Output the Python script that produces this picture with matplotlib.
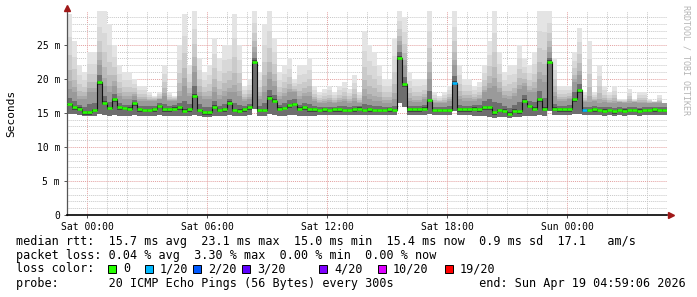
import numpy as np
import matplotlib
matplotlib.use("Agg")
import matplotlib.pyplot as plt
import matplotlib.dates as mdates
from matplotlib.patches import Rectangle
from matplotlib.ticker import MultipleLocator, FuncFormatter

# 15 minute bins, 30 hours ending Sun Apr 19 04:59:06 2026
start = np.datetime64("2026-04-17T22:59:06")
n_bins = 120

# median rtt (ms)
median = [16.3, 15.8, 15.6, 15.1, 15.1, 15.4, 19.5, 16.5, 15.7, 17.0,
          15.8, 15.7, 15.6, 16.4, 15.5, 15.4, 15.4, 15.5, 16.0, 15.5,
          15.5, 15.6, 15.8, 15.3, 15.5, 17.5, 15.4, 15.1, 15.1, 15.9,
          15.4, 15.5, 16.5, 15.4, 15.3, 15.5, 15.8, 22.5, 15.4, 15.4,
          17.2, 16.8, 15.6, 15.7, 16.1, 16.3, 15.6, 15.8, 15.5, 15.5,
          15.4, 15.5, 15.4, 15.5, 15.5, 15.4, 15.4, 15.5, 15.6, 15.4,
          15.5, 15.4, 15.4, 15.4, 15.5, 15.4, 23.1, 19.2, 15.5, 15.5,
          15.5, 15.6, 16.9, 15.4, 15.4, 15.4, 15.4, 19.4, 15.5, 15.5,
          15.5, 15.6, 15.5, 15.8, 15.8, 15.1, 15.4, 15.3, 14.9, 15.3,
          15.2, 16.8, 16.0, 15.6, 17.0, 15.6, 22.5, 15.6, 15.5, 15.5,
          15.5, 17.0, 18.3, 15.4, 15.4, 15.5, 15.4, 15.3, 15.4, 15.2,
          15.4, 15.3, 15.4, 15.4, 15.3, 15.4, 15.4, 15.5, 15.4, 15.4]

# highest ping of each bin (ms)
smoke_hi = [29.5, 25.5, 22.0, 21.0, 24.0, 24.0, 30.0, 30.0, 28.0, 25.0,
            22.0, 21.0, 21.0, 20.0, 19.0, 19.0, 18.0, 17.5, 18.0, 22.0,
            18.0, 17.5, 25.0, 29.5, 22.0, 30.0, 23.0, 21.0, 22.0, 26.0,
            23.0, 25.0, 25.0, 29.5, 25.0, 19.0, 20.0, 30.0, 21.0, 28.0,
            30.0, 26.0, 21.0, 22.0, 23.0, 20.0, 22.0, 22.0, 23.0, 19.0,
            18.0, 18.5, 19.0, 18.0, 19.0, 19.5, 18.5, 20.5, 18.0, 27.0,
            25.0, 24.0, 22.0, 20.0, 20.0, 26.0, 30.0, 29.0, 21.0, 20.0,
            20.0, 20.0, 30.0, 18.0, 17.5, 18.0, 19.0, 30.0, 22.0, 20.0,
            20.0, 19.0, 19.5, 22.0, 25.6, 30.0, 24.0, 21.0, 22.0, 22.0,
            25.0, 23.0, 22.0, 24.0, 30.0, 30.0, 30.0, 23.0, 19.0, 19.0,
            19.0, 24.0, 27.5, 18.0, 25.6, 18.0, 22.0, 19.0, 18.0, 19.0,
            17.0, 17.0, 18.5, 17.0, 18.0, 18.0, 17.0, 16.7, 17.6, 16.5]

# upper edge of the dense part of the smoke (ms)
smoke_mid = [18.5, 18.0, 17.0, 17.0, 18.0, 18.0, 22.0, 19.0, 18.0, 19.0,
             17.5, 17.0, 17.0, 17.5, 16.8, 16.8, 16.8, 16.8, 17.0, 17.5,
             16.8, 16.8, 17.5, 19.0, 17.5, 21.0, 17.5, 17.0, 17.0, 18.0,
             17.0, 17.5, 18.0, 18.0, 17.5, 16.8, 17.0, 24.0, 17.0, 18.0,
             20.0, 19.0, 17.0, 17.5, 18.0, 18.0, 17.0, 17.5, 17.5, 16.8,
             16.5, 16.5, 16.6, 16.5, 16.6, 16.8, 16.5, 16.8, 16.5, 17.5,
             17.0, 16.8, 16.8, 16.5, 16.5, 17.0, 25.0, 22.0, 16.8, 16.6,
             16.6, 17.0, 20.0, 16.5, 16.5, 16.5, 16.8, 22.0, 17.0, 16.8,
             16.8, 16.8, 17.0, 18.0, 18.7, 19.0, 18.0, 17.2, 17.0, 17.5,
             18.5, 19.0, 18.0, 18.0, 20.0, 19.5, 24.0, 17.5, 16.8, 16.8,
             17.0, 19.5, 20.5, 16.6, 16.6, 16.8, 16.5, 16.6, 16.5, 16.5,
             16.6, 16.5, 16.5, 16.6, 16.5, 16.5, 16.4, 16.5, 16.4, 16.4]

# lowest ping of each bin (ms)
smoke_lo = [14.8, 14.8, 14.7, 14.5, 14.5, 14.6, 14.8, 14.7, 14.6, 14.7,
            14.6, 14.6, 14.6, 14.7, 14.6, 14.6, 14.6, 14.6, 14.7, 14.6,
            14.6, 14.6, 14.6, 14.5, 14.6, 14.7, 14.6, 14.4, 14.4, 14.6,
            14.6, 14.6, 14.7, 14.6, 14.5, 14.6, 14.7, 15.6, 14.6, 14.6,
            14.8, 14.7, 14.6, 14.6, 14.7, 14.7, 14.6, 14.6, 14.6, 14.6,
            14.7, 14.7, 14.7, 14.7, 14.7, 14.7, 14.7, 14.7, 14.7, 14.7,
            14.7, 14.7, 14.7, 14.7, 14.7, 14.7, 16.5, 15.8, 14.7, 14.7,
            14.7, 14.7, 14.9, 14.7, 14.7, 14.7, 14.7, 15.2, 14.7, 14.7,
            14.7, 14.6, 14.6, 14.5, 14.4, 14.3, 14.4, 14.4, 14.2, 14.4,
            14.4, 14.6, 14.6, 14.6, 14.7, 14.6, 15.2, 14.7, 14.7, 14.7,
            14.7, 14.8, 14.9, 14.7, 14.7, 14.7, 14.7, 14.6, 14.7, 14.6,
            14.7, 14.6, 14.7, 14.7, 14.6, 14.7, 14.7, 14.7, 14.7, 14.7]

# lost pings out of 20
loss = [0] * 120
loss[77] = 1
loss[103] = 1

loss_levels = [0, 1, 2, 3, 4, 10, 19]
loss_labels = ["0", "1/20", "2/20", "3/20", "4/20", "10/20", "19/20"]
loss_colors = ["#26ff00", "#00b8ff", "#0059ff", "#5e00ff", "#7e00ff", "#dd00ff", "#ff0000"]


def loss_color(n):
    c = loss_colors[0]
    for lvl, col in zip(loss_levels, loss_colors):
        if n >= lvl:
            c = col
    return c


times = start + np.arange(n_bins) * np.timedelta64(15, "m")
t = mdates.date2num(times)
w = 15 / 1440.0
med = np.array(median)
hi = np.array(smoke_hi)
mid = np.array(smoke_mid)
lo = np.array(smoke_lo)

W, H = 697, 297
fig = plt.figure(figsize=(W / 100, H / 100), dpi=100)
ax = fig.add_axes([67 / W, (H - 215) / H, 600 / W, 204 / H])

# smoke, light outer parts first
shades = [(1.0, "#e4e4e4"), (0.7, "#d8d8d8"), (0.45, "#cacaca"),
          (0.25, "#bababa"), (0.1, "#aaaaaa")]
for f, col in shades:
    top = mid + (hi - mid) * f
    ax.bar(t, top - lo, bottom=lo, width=w, align="edge", color=col, lw=0, zorder=2)
ax.bar(t, mid - lo, bottom=lo, width=w, align="edge", color="#9a9a9a", lw=0, zorder=2)
core_top = med + (mid - med) * 0.4
ax.bar(t, core_top - lo, bottom=lo, width=w, align="edge", color="#6e6e6e", lw=0, zorder=2)
ax.bar(t, 0.55, bottom=med - 0.35, width=w, align="edge", color="#444444", lw=0, zorder=2)

# median line coloured by loss
t_ext = np.append(t, t[-1] + w)
ax.step(t_ext, np.append(med, med[-1]), where="post", color="#111111", lw=0.8, zorder=3)
for ti, m, l in zip(t, med, loss):
    ax.hlines(m, ti, ti + w, color=loss_color(l), lw=1.9, zorder=4)

ax.set_xlim(t[0], t[0] + 30 / 24)
ax.set_ylim(0, 29.95)

mono = "DejaVu Sans Mono"
ax.xaxis.set_major_locator(mdates.HourLocator(byhour=[0, 6, 12, 18]))
ax.xaxis.set_minor_locator(mdates.HourLocator())
ax.xaxis.set_major_formatter(mdates.DateFormatter("%a %H:%M"))
ax.yaxis.set_major_locator(MultipleLocator(5))
ax.yaxis.set_minor_locator(MultipleLocator(1))
ax.yaxis.set_major_formatter(FuncFormatter(lambda v, p: "0" if v == 0 else f"{v:.0f} m"))

ax.set_axisbelow(True)
ax.grid(which="minor", color="#c8c8c8", ls=(0, (1, 1)), lw=0.7)
ax.grid(which="major", color="#e3a0a0", ls=(0, (1, 1)), lw=0.7)
ax.tick_params(which="major", length=2, width=0.7, color="#555555", pad=3)
ax.tick_params(which="minor", length=0)
for lab in ax.get_xticklabels() + ax.get_yticklabels():
    lab.set_fontfamily(mono)
    lab.set_fontsize(7)

for s in ["top", "right"]:
    ax.spines[s].set_visible(False)
ax.spines["bottom"].set_color("black")
ax.spines["bottom"].set_linewidth(1.2)
ax.spines["left"].set_color("#555555")
ax.spines["left"].set_linewidth(0.9)

# axis arrows
ax.plot([0], [1.0 + 3 / 204], marker="^", ms=4, color="#a01818", transform=ax.transAxes,
        clip_on=False, zorder=6)
ax.plot([1.0 + 4 / 600], [0], marker=">", ms=4, color="#a01818", transform=ax.transAxes,
        clip_on=False, zorder=6)

fig.text(11 / W, 1 - 113 / H, "Seconds", rotation=90, ha="center", va="center",
         fontsize=8, family=mono)
fig.text(686 / W, 1 - 60 / H, "RRDTOOL / TOBI OETIKER", rotation=270, ha="center",
         va="center", fontsize=6, family=mono, color="#b4b4b4")

lines = [
    "median rtt:  15.7 ms avg  23.1 ms max  15.0 ms min  15.4 ms now  0.9 ms sd  17.1   am/s",
    "packet loss: 0.04 % avg  3.30 % max  0.00 % min  0.00 % now",
    "loss color:",
    "probe:       20 ICMP Echo Pings (56 Bytes) every 300s            end: Sun Apr 19 04:59:06 2026",
]
for i, txt in enumerate(lines):
    fig.text(16 / W, 1 - (241 + 14 * i) / H, txt, ha="left", va="center",
             fontsize=8.5, family=mono)

square_x = [108, 145, 193, 242, 319, 378, 445]
for sx, col, lab in zip(square_x, loss_colors, loss_labels):
    fig.add_artist(Rectangle((sx / W, 1 - 273 / H), 8 / W, 8 / H, transform=fig.transFigure,
                             facecolor=col, edgecolor="black", lw=0.7))
    fig.text((sx + 15) / W, 1 - 269 / H, lab, ha="left", va="center", fontsize=8.5, family=mono)

fig.savefig("out.png", dpi=100)
